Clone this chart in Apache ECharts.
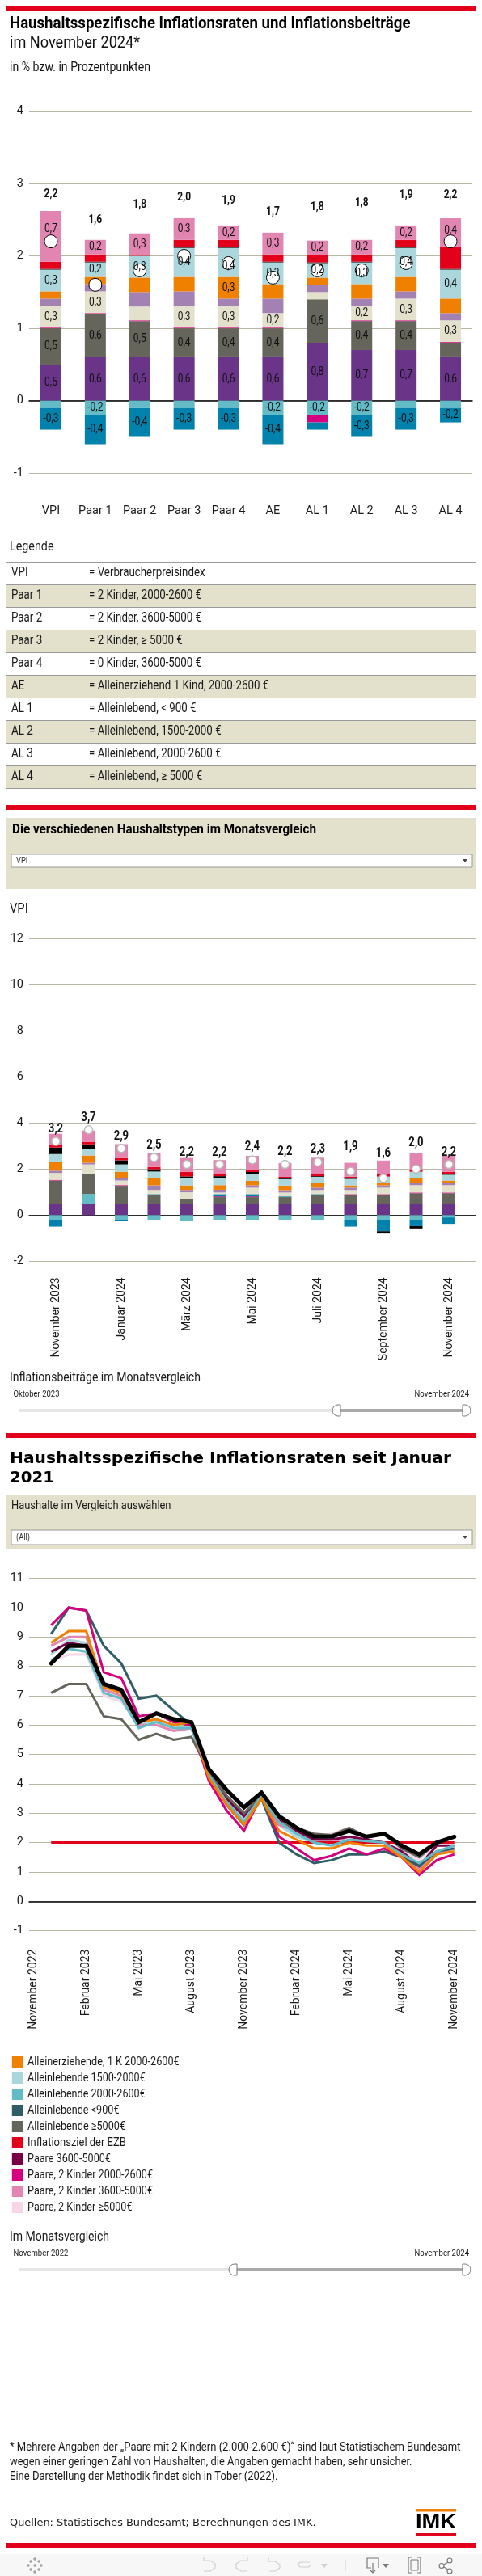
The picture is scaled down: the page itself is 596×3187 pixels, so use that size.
<!DOCTYPE html>
<html lang="de"><head><meta charset="utf-8"><title>Haushaltsspezifische Inflationsraten</title>
<style>html,body{margin:0;padding:0;background:#fff}#c{width:596px;height:3187px}</style>
<script src="https://cdn.jsdelivr.net/npm/echarts@6/dist/echarts.min.js"></script></head><body><div id="c"></div>
<script>
// ---------- DATA: Nov 2024 by household ----------
const householdCats = ['VPI','Paar 1','Paar 2','Paar 3','Paar 4','AE','AL 1','AL 2','AL 3','AL 4'];
const householdTotals = [2.2,1.6,1.8,2.0,1.9,1.7,1.8,1.8,1.9,2.2];
const hPurple  = [0.5,0.6,0.6,0.6,0.6,0.6,0.8,0.7,0.7,0.6];
const hTeal    = [-0.1,-0.2,-0.1,-0.1,-0.1,-0.2,-0.2,-0.2,-0.1,-0.1];
const hGray    = [0.5,0.6,0.5,0.4,0.4,0.4,0.6,0.4,0.4,0.2];
const hMagenta = [0.01,0.01,0.01,0.01,0.01,0.01,-0.1,0.01,0.01,0.01];
const hBlue    = [-0.3,-0.4,-0.4,-0.3,-0.3,-0.4,-0.1,-0.3,-0.3,-0.2];
const hCream   = [0.3,0.3,0.19,0.3,0.3,0.2,0.1,0.2,0.3,0.3];
const hViolet  = [0.1,0.1,0.2,0.2,0.1,0.2,0.1,0.1,0.1,0.1];
const hOrange  = [0.1,0.1,0.2,0.2,0.3,0.2,0.1,0.2,0.2,0.2];
const hLight   = [0.3,0.2,0.3,0.4,0.4,0.3,0.2,0.3,0.4,0.4];
const hBlack   = [0.01,0.01,0,0.01,0.01,0.01,0.01,0.01,0.01,0.01];
const hRed     = [0.1,0.1,0.01,0.1,0.1,0.1,0.1,0.1,0.1,0.3];
const hPink    = [0.7,0.2,0.3,0.3,0.2,0.3,0.2,0.2,0.2,0.4];
// ---------- DATA: monthly VPI contributions ----------
const monthCats = ['November 2023','Dezember 2023','Januar 2024','Februar 2024','März 2024','April 2024','Mai 2024','Juni 2024','Juli 2024','August 2024','September 2024','Oktober 2024','November 2024'];
const monthTotals = [3.2,3.7,2.9,2.5,2.2,2.2,2.4,2.2,2.3,1.9,1.6,2.0,2.2];
const mPurple  = [0.5,0.5,0.5,0.5,0.5,0.5,0.5,0.5,0.5,0.5,0.5,0.5,0.5];
const mTeal    = [-0.2,0.42,-0.2,-0.2,-0.27,-0.2,-0.2,-0.2,-0.2,-0.2,-0.2,-0.2,-0.1];
const mGray    = [1.0,0.85,0.77,0.38,0.18,0.28,0.28,0.28,0.38,0.38,0.38,0.45,0.45];
const mMagenta = [0.03,0,0.03,0,0,0.03,0.03,0,0,0.03,0.03,0.03,0.03];
const mBlue    = [-0.3,0.03,-0.07,0.03,0.03,0.1,0.1,0.03,0.03,-0.3,-0.5,-0.28,-0.28];
const mCream   = [0.3,0.4,0.2,0.18,0.28,0.07,0.28,0.17,0.18,0.18,0.28,0.32,0.32];
const mViolet  = [0.1,0.07,0.1,0.2,0.1,0.12,0.1,0.1,0.1,0.1,0.1,0.1,0.1];
const mOrange  = [0.4,0.32,0.28,0.32,0.2,0.2,0.2,0.2,0.22,0.1,0.1,0.2,0.1];
const mLight   = [0.32,0.28,0.32,0.28,0.32,0.32,0.28,0.28,0.25,0.28,0.28,0.28,0.25];
const mBlack   = [0.28,0.2,0.18,0.1,0.07,0.07,0.1,0.03,0.03,0.03,-0.1,-0.1,0.03];
const mRed     = [0.1,0.1,0.1,0.1,0.2,0.1,0.1,0.07,0.1,0.07,0.1,0.1,0.1];
const mPink    = [0.5,0.5,0.6,0.6,0.6,0.6,0.6,0.6,0.7,0.6,0.6,0.7,0.7];
// ---------- DATA: rates since Nov 2022 ----------
const rateCats = ['November 2022','Dezember 2022','Januar 2023','Februar 2023','März 2023','April 2023','Mai 2023','Juni 2023','Juli 2023','August 2023','September 2023','Oktober 2023','November 2023','Dezember 2023','Januar 2024','Februar 2024','März 2024','April 2024','Mai 2024','Juni 2024','Juli 2024','August 2024','September 2024','Oktober 2024','November 2024'];
const rVPI      = [null,8.1,8.7,8.7,7.4,7.2,6.1,6.4,6.2,6.1,4.5,3.8,3.2,3.7,2.9,2.5,2.2,2.2,2.4,2.2,2.3,1.9,1.6,2.0,2.2];
const rAE       = [null,8.8,9.2,9.2,7.3,7.1,6.1,6.2,6.0,6.1,4.2,3.3,2.6,3.5,2.4,2.1,1.8,1.8,2.0,1.9,1.9,1.5,1.0,1.6,1.7];
const rAL1500   = [null,8.4,8.9,8.8,7.2,7.0,6.0,6.2,6.0,5.9,4.4,3.4,2.8,3.6,2.6,2.2,2.0,1.9,2.1,2.0,2.0,1.6,1.2,1.7,1.8];
const rAL2000   = [null,8.2,8.6,8.5,7.1,6.9,5.9,6.1,5.9,5.9,4.3,3.4,2.7,3.6,2.7,2.3,2.0,1.9,2.1,2.05,2.0,1.6,1.3,1.7,1.9];
const rAL900    = [null,9.1,10.0,9.9,8.7,8.1,6.9,7.0,6.5,6.0,4.3,3.3,2.6,3.5,2.0,1.6,1.3,1.4,1.6,1.6,1.7,1.5,1.2,1.7,1.8];
const rAL5000   = [null,7.1,7.4,7.4,6.3,6.2,5.5,5.7,5.5,5.6,4.4,3.6,3.0,3.6,2.7,2.5,2.3,2.25,2.5,2.2,2.3,1.8,1.5,2.0,2.2];
const rEZB      = [null,2,2,2,2,2,2,2,2,2,2,2,2,2,2,2,2,2,2,2,2,2,2,2,2];
const rP3600    = [null,8.5,8.8,8.7,7.3,7.2,6.1,6.4,6.1,6.0,4.5,3.5,2.9,3.7,2.8,2.4,2.1,2.1,2.2,2.1,2.0,1.7,1.2,1.9,1.9];
const rPK2000   = [null,9.4,10.0,9.9,7.8,7.6,6.3,6.4,6.1,6.0,4.1,3.1,2.4,3.6,2.2,1.8,1.4,1.55,1.8,1.6,1.8,1.5,0.9,1.4,1.6];
const rPK3600   = [null,8.7,9.0,9.0,7.2,7.0,6.0,6.0,5.8,5.9,4.3,3.3,2.6,3.5,2.6,2.4,2.0,2.0,2.2,2.1,2.0,1.6,1.1,1.6,1.8];
const rPK5000   = [null,8.2,8.4,8.4,7.0,6.8,6.0,6.1,5.9,5.9,4.4,3.6,3.0,3.7,2.9,2.4,2.2,2.3,2.5,2.2,2.3,1.7,1.4,2.0,2.0];
const legendRows = [['VPI','= Verbraucherpreisindex'],['Paar 1','= 2 Kinder, 2000-2600 €'],['Paar 2','= 2 Kinder, 3600-5000 €'],['Paar 3','= 2 Kinder, ≥ 5000 €'],['Paar 4','= 0 Kinder, 3600-5000 €'],['AE','= Alleinerziehend 1 Kind, 2000-2600 €'],['AL 1','= Alleinlebend, < 900 €'],['AL 2','= Alleinlebend, 1500-2000 €'],['AL 3','= Alleinlebend, 2000-2600 €'],['AL 4','= Alleinlebend, ≥ 5000 €']];
const legendOrder = ['Alleinerziehende, 1 K 2000-2600€','Alleinlebende 1500-2000€','Alleinlebende 2000-2600€','Alleinlebende <900€','Alleinlebende ≥5000€','Inflationsziel der EZB','Paare 3600-5000€','Paare, 2 Kinder 2000-2600€','Paare, 2 Kinder 3600-5000€','Paare, 2 Kinder ≥5000€'];

// ---------- styling ----------
const C = {purple:'#6A3489',teal:'#62BBC5',gray:'#66655B',magenta:'#D5007F',blue:'#0082AC',cream:'#E3E0CB',violet:'#A481B3',orange:'#F08000',light:'#ABD6DC',black:'#000000',red:'#E3001B',pink:'#E285B0',tealDark:'#2F5E66',plum:'#7A0045',pale:'#F5D7E8',grid:'#B8B7A6',text:'#1a1a1a'};
const ctx = document.createElement('canvas').getContext('2d');
function measure(s,size,weight,fam){ctx.font=(weight||'normal')+' '+size+'px '+(fam||'Roboto');return ctx.measureText(s).width;}
const g = [];
function rect(x,y,w,h,fill,extra){g.push(Object.assign({type:'rect',shape:{x,y,width:w,height:h},style:{fill},silent:true},extra||{}));}
function line(x1,y1,x2,y2,c,w){g.push({type:'line',shape:{x1,y1,x2,y2},style:{stroke:c,lineWidth:w||1},silent:true});}
function poly(pts,c,w){g.push({type:'polyline',shape:{points:pts},style:{stroke:c,fill:null,lineWidth:w||1.2},silent:true});}
// text whose width is fitted to the reference (condensed look): x = left, right = right edge
function txt(s,x,y,size,right,o){o=o||{};const fam=o.fam||'Roboto',weight=o.weight||'normal';
  const m=measure(s,size,weight,fam);const sx=right?(right-x)/m:(o.sx||1);
  g.push({type:'text',x,y,scaleX:sx,silent:true,style:{text:s,fill:o.fill||C.text,font:weight+' '+size+'px '+fam,textAlign:'left',textVerticalAlign:'middle'}});}
function slider(y,l){rect(24,y-2,548,4,'#E6E6E6');rect(l,y-2,572-l,4,'#AAAAAA');
  [[l-10,[7,0,0,7]],[572,[0,7,7,0]]].forEach(([hx,rr])=>g.push({type:'rect',shape:{x:hx,y:y-7,width:10,height:14,r:rr},style:{fill:'#fff',stroke:'#777',lineWidth:1},silent:true}));}
function dropdown(y,h,s){rect(14,y,570,h,'#fff',{style:{fill:'#fff',stroke:'#9a9a9a',lineWidth:1}});
  txt(s,20,y+h/2,11,null,{sx:.85,fill:'#333'});
  g.push({type:'polygon',shape:{points:[[572,y+h/2-2],[578,y+h/2-2],[575,y+h/2+2]]},style:{fill:'#444'},silent:true});}

// ---------- page furniture ----------
rect(8,8,580,6,C.red);
txt('Haushaltsspezifische Inflationsraten und Inflationsbeiträge',12,30,20,507.5,{weight:'bold',fill:'#000'});
txt('im November 2024*',12,54,20,173,{fill:'#111'});
txt('in % bzw. in Prozentpunkten',12,84,16,186,{fill:'#111'});
txt('Legende',12,677,16,66.5);
const tableSx=143.6/measure('= Verbraucherpreisindex',16);
legendRows.forEach((r,i)=>{const y=695.3+28*i; if(i%2===1) rect(8,y,580,28,C.cream);
  txt(r[0],14,y+14,16,null,{sx:tableSx}); txt(r[1],110,y+14,16,null,{sx:tableSx});});
for(let i=0;i<=10;i++) line(8,695.5+28*i,588,695.5+28*i,'#999',1);
rect(8,996,580,6,C.red);
rect(8,1012,580,88,C.cream);
txt('Die verschiedenen Haushaltstypen im Monatsvergleich',15,1027,16,391,{weight:'bold',fill:'#000'});
dropdown(1057,16,'VPI');
txt('VPI',12,1125,16,null,{sx:.92});
txt('Inflationsbeiträge im Monatsvergleich',12,1705,16,248);
txt('Oktober 2023',16.5,1725,11.5,73.5);
txt('November 2024',512.5,1725,11.5,580);
slider(1745,421);
rect(8,1773,580,6,C.red);
txt('Haushaltsspezifische Inflationsraten seit Januar',12,1805,19,558,{weight:'bold',fam:'DejaVu Sans',fill:'#000'});
txt('2021',12,1829,19,67,{weight:'bold',fam:'DejaVu Sans',fill:'#000'});
rect(8,1850,580,66,C.cream);
txt('Haushalte im Vergleich auswählen',14,1863,15.5,211.5);
dropdown(1893,18,'(All)');
// legend entry texts (the swatches come from the ECharts legend)
const legendRight=[221.7,179.8,179.8,147.5,155,155.9,136.9,189,189,163.5];
legendOrder.forEach((s,i)=>txt(s,34,2551+20*i,15.5,legendRight[i]));
txt('Im Monatsvergleich',12,2768,16,135);
txt('November 2022',16.5,2788,11.5,84.5);
txt('November 2024',512.5,2788,11.5,580);
slider(2808,293);
txt('* Mehrere Angaben der „Paare mit 2 Kindern (2.000-2.600 €)“ sind laut Statistischem Bundesamt',12,3028,15.5,569.5);
txt('wegen einer geringen Zahl von Haushalten, die Angaben gemacht haben, sehr unsicher.',12,3046,15.5,509.5);
txt('Eine Darstellung der Methodik findet sich in Tober (2022).',12,3064,15.5,343.5);
txt('Quellen: Statistisches Bundesamt; Berechnungen des IMK.',12,3122,13,390.5,{fam:'DejaVu Sans'});
rect(514,3104,50,3.5,C.orange);
txt('IMK',514,3121.5,25,564,{weight:'bold',fam:'Liberation Sans',fill:'#000'});
rect(514,3134,50,3.5,C.red);
rect(8,3146,580,6,C.red);
rect(0,3160,596,27,'#F7F7F7');
// toolbar icons
[[43,3166],[43,3182],[35,3174],[51,3174],[43,3174],[38,3169],[48,3169],[38,3179],[48,3179]].forEach(([x,y])=>{line(x-2,y,x+2,y,'#888',1);line(x,y-2,x,y+2,'#888',1);});
const dim='#CFCFCF',dk='#777';
poly([[255,3168],[252,3168],[252,3164],[252,3168],[260,3168],[266,3172],[266,3177],[260,3181],[252,3181]],dim);
poly([[306,3164],[306,3168],[298,3168],[292,3172],[292,3177],[298,3181],[306,3181]],dim);
poly([[332,3164],[332,3169],[340,3169],[346,3173],[346,3177],[340,3181],[333,3181]],dim);
poly([[383,3170],[371,3170],[368,3173],[371,3176],[382,3176],[384,3173]],dim);
g.push({type:'polygon',shape:{points:[[397,3172],[405,3172],[401,3177]]},style:{fill:dim},silent:true});
line(427,3167,427,3181,dim,1);
poly([[468,3177],[468,3165],[454,3165],[454,3177],[459,3177]],dk);poly([[461,3171],[461,3183]],dk);poly([[458,3180],[461,3183],[464,3180]],dk);
g.push({type:'polygon',shape:{points:[[473,3172],[481,3172],[477,3177]]},style:{fill:dk},silent:true});
poly([[509,3164],[505,3164],[505,3183],[509,3183]],dk);poly([[516,3164],[520,3164],[520,3183],[516,3183]],dk);rect(508,3167,9,13,'none',{style:{fill:'none',stroke:dk,lineWidth:1}});
poly([[556,3169],[546,3174.5],[556,3180]],dk);
[[556,3168],[546,3174.5],[556,3181]].forEach(([x,y])=>g.push({type:'circle',shape:{cx:x,cy:y,r:3},style:{fill:'#F7F7F7',stroke:dk,lineWidth:1.1},silent:true}));

// ---------- helpers building series from data ----------
const gridA1={left:36,top:137.3,width:548,height:448},gridA2={left:36,top:1161.3,width:552,height:399},gridA3={left:36,top:1952.6,width:552,height:436};
const grids=[gridA1,Object.assign({},gridA1,{left:35.5,width:549}),gridA2,Object.assign({},gridA2,{left:48.75,width:526.5}),gridA3,Object.assign({},gridA3,{left:41.6,width:520.1})];
const yCommon=(grid,min,max,interval,show)=>({type:'value',gridIndex:grid,min,max,interval,show,axisLine:{show:false},axisTick:{show:false},
  splitLine:{show,lineStyle:{color:C.grid,width:1}},axisLabel:{margin:7,fontFamily:'Roboto',fontSize:14.5,color:C.text,formatter:v=>String(v)}});
const yAxes=[yCommon(0,-1,4,1,true),yCommon(1,-1,4,1,false),yCommon(2,-2,12,2,true),yCommon(3,-2,12,2,false),yCommon(4,-1,11,1,true),yCommon(5,-1,11,1,false)];
const zeroAxis=(grid,n)=>({type:'category',gridIndex:grid,data:n,axisTick:{show:false},axisLabel:{show:false},splitLine:{show:false},axisLine:{onZero:true,lineStyle:{color:'#000',width:1.5}}});
const xAxes=[
 zeroAxis(0,householdCats),
 {type:'category',gridIndex:1,data:householdCats,axisLine:{show:false,onZero:false},axisTick:{show:false},axisLabel:{margin:40,fontFamily:'Roboto',fontSize:14.5,color:C.text,interval:0}},
 zeroAxis(2,monthCats),
 {type:'category',gridIndex:3,data:monthCats,axisLine:{show:false,onZero:false},axisTick:{show:false},axisLabel:{margin:20,rotate:90,fontFamily:'Roboto',fontSize:14,color:C.text,interval:1}},
 zeroAxis(4,rateCats),
 {type:'category',gridIndex:5,data:rateCats,boundaryGap:false,axisLine:{show:false,onZero:false},axisTick:{show:false},axisLabel:{margin:23,rotate:90,fontFamily:'Roboto',fontSize:14,color:C.text,interval:2}}
];
const hStack=[['lila',hPurple,C.purple,.195],['tuerkis',hTeal,C.teal,.195],['grau',hGray,C.gray,.3],['magenta',hMagenta,C.magenta,9],['blau',hBlue,C.blue,.15],['creme',hCream,C.cream,.195],['violett',hViolet,C.violet,9],['orange',hOrange,C.orange,.25],['hellblau',hLight,C.light,.15],['schwarz',hBlack,C.black,9],['rot',hRed,C.red,9],['rosa',hPink,C.pink,.15]];
const mStack=[['lila',mPurple,C.purple],['tuerkis',mTeal,C.teal],['grau',mGray,C.gray],['magenta',mMagenta,C.magenta],['blau',mBlue,C.blue],['creme',mCream,C.cream],['violett',mViolet,C.violet],['orange',mOrange,C.orange],['hellblau',mLight,C.light],['schwarz',mBlack,C.black],['rot',mRed,C.red],['rosa',mPink,C.pink]];
const comma=v=>v.toFixed(1).replace('.',',');
const series=[];
function bars(stack,xi,yi,w,tag){stack.forEach(s=>series.push({type:'bar',name:tag+s[0],xAxisIndex:xi,yAxisIndex:yi,stack:tag,barWidth:w,data:s[1],itemStyle:{color:s[2]},z:2,animation:false,silent:true,legendHoverLink:false}));}
function textSeries(xi,yi,data,font,sx,z){series.push({type:'custom',xAxisIndex:xi,yAxisIndex:yi,z,animation:false,silent:true,clip:false,data,encode:{x:0,y:1},
  renderItem:(p,api)=>{const pt=api.coord([api.value(0),api.value(1)]);return {type:'text',x:pt[0],y:pt[1]-api.value(3),scaleX:sx,style:{text:data[p.dataIndex][2],font,fill:'#111',textAlign:'center',textVerticalAlign:'middle'}};}});}
bars(hStack,1,1,26,'h');
bars(mStack,3,3,16,'m');
// circles
series.push({type:'scatter',xAxisIndex:1,yAxisIndex:1,data:householdTotals,symbolSize:16,z:3,animation:false,silent:true,itemStyle:{color:'#fff',borderColor:'#000',borderWidth:1,opacity:1}});
series.push({type:'scatter',xAxisIndex:3,yAxisIndex:3,data:monthTotals,symbolSize:10,z:3,animation:false,silent:true,itemStyle:{color:'#fff',borderColor:'#BBB',borderWidth:1.5,opacity:1}});
// segment labels of chart 1 placed at the stacked midpoints; a few are lifted/lowered clear of the circles (px)
const labelNudge={'0:rosa':9,'9:rosa':3,'4:hellblau':-5};
const segLabels=[];
householdCats.forEach((c,i)=>{let pos=0,neg=0;hStack.forEach(s=>{const v=s[1][i];const base=v>=0?pos:neg;if(v>=0)pos+=v;else neg+=v;
  if(Math.abs(v)>=s[3]) segLabels.push([i,base+v/2,comma(v),labelNudge[i+':'+s[0]]||0]);});});
textSeries(1,1,segLabels,'normal 15px Roboto',.8,4);
// totals, lifted above the stacks
const hRise=[58,80,81,72,77,81,78,83,84,57];
const mRise=[15,15,15,15.5,15,15,15.5,15.5,15.5,30,31,32,15];
textSeries(1,1,householdCats.map((c,i)=>[i,householdTotals[i],comma(householdTotals[i]),hRise[i]]),'bold 15px Roboto',.8,4);
textSeries(3,3,monthCats.map((c,i)=>[i,monthTotals[i],comma(monthTotals[i]),mRise[i]]),'bold 16px Roboto',.82,4);
// lines
const lineDefs=[['Paare, 2 Kinder ≥5000€',rPK5000,C.pale],['Alleinlebende 1500-2000€',rAL1500,C.light],['Paare, 2 Kinder 3600-5000€',rPK3600,C.pink],['Paare 3600-5000€',rP3600,C.plum],['Alleinlebende ≥5000€',rAL5000,C.gray],['Inflationsziel der EZB',rEZB,C.red],['Alleinlebende <900€',rAL900,C.tealDark],['Paare, 2 Kinder 2000-2600€',rPK2000,C.magenta],['Alleinlebende 2000-2600€',rAL2000,C.teal],['Alleinerziehende, 1 K 2000-2600€',rAE,C.orange]];
lineDefs.forEach((d,i)=>series.push({type:'line',name:d[0],xAxisIndex:5,yAxisIndex:5,data:d[1],showSymbol:false,symbol:'none',itemStyle:{color:d[2]},lineStyle:{color:d[2],width:3,join:'miter'},z:3+i*.01,animation:false,silent:true}));
series.push({type:'line',name:'VPI',xAxisIndex:5,yAxisIndex:5,data:rVPI,showSymbol:false,symbol:'none',lineStyle:{color:'#000',width:5,cap:'round',join:'miter'},z:4,animation:false,silent:true});

const chart=echarts.init(document.getElementById('c'),null,{renderer:'canvas',width:596,height:3187});
chart.setOption({animation:false,backgroundColor:'#fff',tooltip:{show:false},grid:grids,xAxis:xAxes,yAxis:yAxes,series,graphic:{elements:g},
 legend:{orient:'vertical',left:14.8,top:2544,padding:0,itemWidth:14,itemHeight:14,itemGap:6,icon:'rect',selectedMode:false,data:legendOrder,formatter:()=>' ',textStyle:{fontSize:14}}});
</script></body></html>
